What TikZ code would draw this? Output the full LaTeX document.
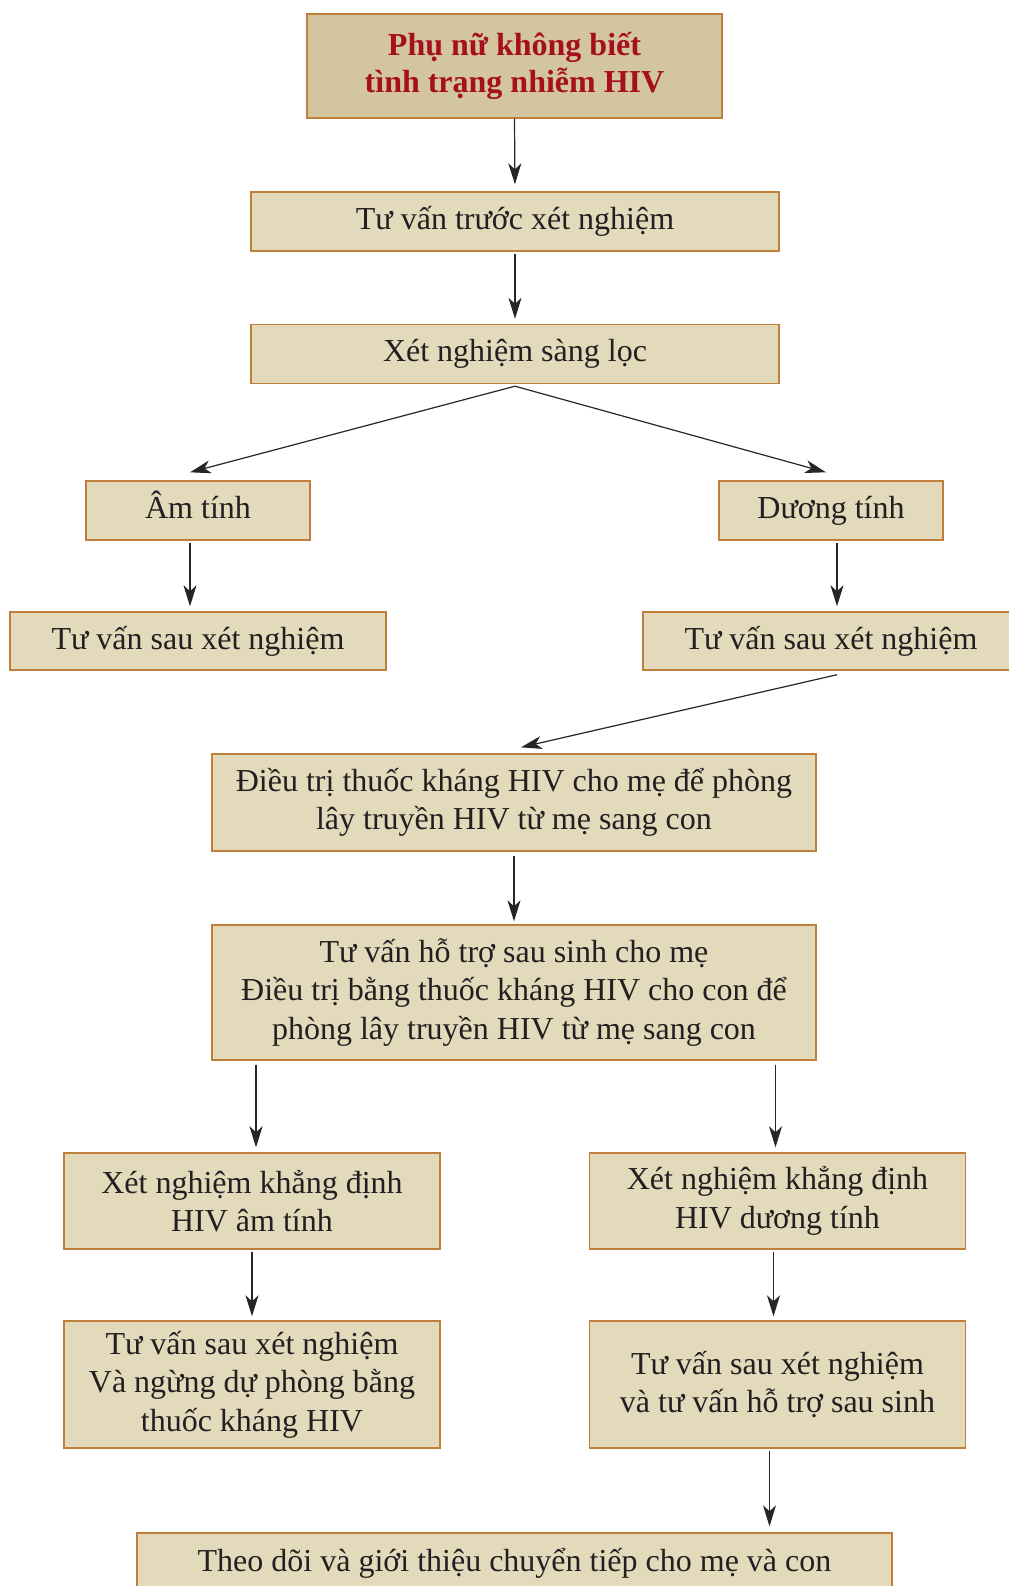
\documentclass[tikz,border=0pt]{standalone}
\usepackage{fontspec}
\setmainfont{Liberation Serif}
\usepackage{xcolor}
\usepackage{tikz}
\usetikzlibrary{arrows.meta}

\definecolor{boxfill}{RGB}{227,217,187}
\definecolor{topfill}{RGB}{211,197,158}
\definecolor{boxline}{RGB}{192,128,60}
\definecolor{titlered}{RGB}{165,15,30}
\definecolor{txt}{RGB}{35,31,32}

\tikzset{
  box/.style={draw=boxline, line width=0.7pt, fill=boxfill, align=center,
    inner sep=0pt, text=txt, font=\fontsize{16}{19.2}\selectfont},
  arr/.style={-{Stealth[length=10.5pt,width=6.5pt,inset=3pt]}, line width=0.6pt,
    draw=black!85},
}

\begin{document}
\begin{tikzpicture}[x=0.5pt, y=-0.5pt]
  \useasboundingbox (0,0) rectangle (1008,1586);

  % boxes, centres in pixels of the page
  \node[box, fill=topfill, minimum width=207.5pt, minimum height=52pt,
        text=titlered, font=\fontsize{16}{18.7}\selectfont\bfseries]
        (phunu) at (514.5,66) {Phụ nữ không biết\\tình trạng nhiễm HIV};
  \node[box, minimum width=264pt, minimum height=29.5pt] (truoc) at (515,221.5)
        {Tư vấn trước xét nghiệm};
  \node[box, minimum width=264pt, minimum height=29.5pt] (sangloc) at (515,354)
        {Xét nghiệm sàng lọc};
  \node[box, minimum width=112pt, minimum height=29.5pt, text height=12pt, text depth=4pt]
        (am) at (198,510.5) {Âm tính};
  \node[box, minimum width=112pt, minimum height=29.5pt, text height=12pt, text depth=4pt]
        (duong) at (831,510.5) {Dương tính};
  \node[box, minimum width=188pt, minimum height=29pt] (sauam) at (198,641)
        {Tư vấn sau xét nghiệm};
  \node[box, minimum width=188pt, minimum height=29pt] (sauduong) at (831,641)
        {Tư vấn sau xét nghiệm};
  \node[box, minimum width=302pt, minimum height=48.5pt] (dieutri) at (514,802.5)
        {Điều trị thuốc kháng HIV cho mẹ để phòng\\lây truyền HIV từ mẹ sang con};
  \node[box, minimum width=302pt, minimum height=67.5pt] (hotro) at (514,992.5)
        {Tư vấn hỗ trợ sau sinh cho mẹ\\Điều trị bằng thuốc kháng HIV cho con để\\phòng lây truyền HIV từ mẹ sang con};
  \node[box, minimum width=188pt, minimum height=48pt] (kdam) at (252,1201)
        {Xét nghiệm khẳng định\\HIV âm tính};
  \node[box, minimum width=188pt, minimum height=48pt] (kdduong) at (777.5,1201)
        {Xét nghiệm khẳng định\\HIV dương tính};
  \node[box, minimum width=188pt, minimum height=63.5pt] (ngung) at (252,1384.5)
        {Tư vấn sau xét nghiệm\\Và ngừng dự phòng bằng\\thuốc kháng HIV};
  \node[box, minimum width=188pt, minimum height=63.5pt] (sausinh) at (777.5,1384.5)
        {Tư vấn sau xét nghiệm\\và tư vấn hỗ trợ sau sinh};
  \node[box, minimum width=377.5pt, minimum height=30pt] (theodoi) at (514.5,1563)
        {Theo dõi và giới thiệu chuyển tiếp cho mẹ và con};

  % arrows
  \draw[arr, shorten >=3.5pt] (phunu.south) -- (truoc.north);
  \draw[arr, shorten <=1pt, shorten >=2.5pt] (truoc.south) -- (sangloc.north);
  \draw[arr] ([yshift=-1pt]sangloc.south) -- ([shift={(-4pt,4pt)}]am.north);
  \draw[arr] ([yshift=-1pt]sangloc.south) -- ([shift={(-2.5pt,4pt)}]duong.north);
  \draw[arr, shorten <=1pt, shorten >=2.5pt] ([xshift=-4pt]am.south) -- ([xshift=-4pt]sauam.north);
  \draw[arr, shorten <=1pt, shorten >=2.5pt] ([xshift=3pt]duong.south) -- ([xshift=3pt]sauduong.north);
  \draw[arr] ([shift={(3pt,-2pt)}]sauduong.south) -- ([shift={(3.5pt,3pt)}]dieutri.north);
  \draw[arr, shorten <=2pt, shorten >=1.5pt] (dieutri.south) -- (hotro.north);
  \draw[arr, shorten <=2pt, shorten >=2.5pt] ([xshift=2pt]hotro.south -| kdam.north) -- ([xshift=2pt]kdam.north);
  \draw[arr, shorten <=2pt, shorten >=2.5pt] ([xshift=-1pt]hotro.south -| kdduong.north) -- ([xshift=-1pt]kdduong.north);
  \draw[arr, shorten <=1pt, shorten >=2pt] (kdam.south) -- (ngung.north);
  \draw[arr, shorten <=1pt, shorten >=2pt] ([xshift=-2pt]kdduong.south) -- ([xshift=-2pt]sausinh.north);
  \draw[arr, shorten <=1pt, shorten >=3pt] ([xshift=-4pt]sausinh.south) -- ([xshift=-4pt]sausinh.south |- theodoi.north);
\end{tikzpicture}
\end{document}
